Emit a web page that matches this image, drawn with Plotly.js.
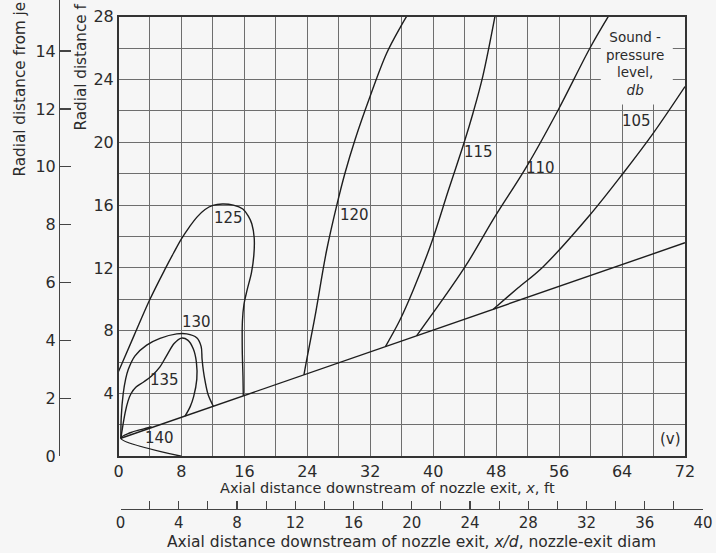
<!DOCTYPE html>
<html>
<head>
<meta charset="utf-8">
<script src="https://cdn.plot.ly/plotly-3.0.1.min.js"></script>
<style>html,body{margin:0;padding:0;background:#f6f6f6;}</style>
</head>
<body>
<div id="chart" style="width:716px;height:553px;"></div>
<script>
// ---- tick labels ----
const xFtTicks = [0, 8, 16, 24, 32, 40, 48, 56, 64, 72];
const yFtTicks = [4, 8, 12, 16, 20, 24, 28];
const xdTicks = [0, 4, 8, 12, 16, 20, 24, 28, 32, 36, 40];
const rdTicks = [0, 2, 4, 6, 8, 10, 12, 14];

// ---- jet mixing boundary ----
const jetX = [0.3, 72];
const jetY = [1.15, 13.6];

// ---- sound-pressure-level contours (x ft, r ft) ----
const c140X = [8, 0.3, 1.5, 3.0, 4.2];
const c140Y = [0, 1.15, 1.5, 1.72, 1.88];

const c135X = [0.3, 0.84, 1.2, 1.6, 2.2, 3.15, 4.2, 5.27, 6.1, 7.1, 8.0, 8.8, 9.5, 9.9, 9.95, 9.55, 9.1, 8.45];
const c135Y = [1.15, 2.77, 3.5, 4.0, 4.4, 4.72, 5.12, 5.7, 6.4, 7.2, 7.53, 7.4, 6.85, 6.0, 4.9, 3.8, 3.15, 2.56];

const c130X = [0.3, 0.35, 0.6, 0.9, 1.25, 2.1, 3.58, 5.27, 7.4, 8.67, 9.94, 10.5, 10.62, 10.8, 11.0, 11.41, 12.05];
const c130Y = [1.15, 2.5, 4.0, 4.9, 5.54, 6.4, 7.08, 7.51, 7.8, 7.8, 7.55, 7.0, 6.2, 5.4, 4.8, 3.9, 3.19];

const c125X = [0, 2, 4, 6, 7, 8, 9, 10, 11, 12, 13.2, 14.6, 15.8, 16.5, 16.95, 17.25, 17.2, 16.9, 16.35, 15.95, 15.75, 15.73, 15.82, 15.86];
const c125Y = [5.4, 7.72, 10.0, 12.0, 12.95, 13.85, 14.6, 15.25, 15.72, 15.98, 16.07, 16.0, 15.75, 15.3, 14.8, 13.9, 12.8, 11.7, 10.6, 9.7, 8.6, 6.8, 5.1, 3.85];

const c120X = [23.57, 23.91, 24.97, 26.46, 27.8, 28.78, 30.05, 31.96, 34.08, 35.9, 36.6];
const c120Y = [5.18, 6.13, 8.89, 13.14, 16.11, 18.03, 20.15, 22.9, 25.67, 27.4, 28];

const c115X = [33.93, 35.77, 37.46, 39.77, 41.94, 43.94, 45.05, 46.3, 47.84];
const c115Y = [6.99, 8.68, 10.59, 13.59, 16.96, 20.0, 21.85, 24.2, 28];

const c110X = [37.88, 43.97, 47.84, 51.87, 55.88, 59.91, 62.24];
const c110Y = [7.67, 12.01, 15.26, 18.45, 22.06, 25.99, 28];

const c105X = [47.63, 50.76, 53.98, 59.91, 64.14, 67.95, 72];
const c105Y = [9.37, 10.72, 12.08, 15.37, 18.03, 20.57, 23.55];

// ---- contour labels ----
const labelText = ['125', '130', '135', '140', '120', '115', '110', '105', '(v)'];
const labelX = [13.95, 9.94, 5.9, 5.27, 30.05, 45.8, 53.65, 65.85, 70.1];
const labelY = [15.16, 8.55, 4.88, 1.14, 15.36, 19.4, 18.39, 21.37, 1.13];

const keyText = 'Sound -<br>pressure<br>level,<br><i>db</i>';

// ---- styling ----
const BG = '#f6f6f6';
const INK = '#1e1e1e';
const TXT = '#2b2b2b';
const GRID = '#6e6e6e';
const FONT = 'DejaVu Sans';

function curve(x, y, shape) {
  return {x: x, y: y, type: 'scatter', mode: 'lines', xaxis: 'x', yaxis: 'y',
          line: {color: INK, width: 1.4, shape: shape || 'spline', smoothing: 1.0},
          hoverinfo: 'skip', showlegend: false};
}

const traces = [
  curve(jetX, jetY, 'linear'),
  curve(c140X, c140Y),
  curve(c135X, c135Y),
  curve(c130X, c130Y),
  curve(c125X, c125Y),
  curve(c120X, c120Y),
  curve(c115X, c115Y),
  curve(c110X, c110Y),
  curve(c105X, c105Y),
  {x: [null], y: [null], xaxis: 'x2', yaxis: 'y2', type: 'scatter', mode: 'lines',
   hoverinfo: 'skip', showlegend: false}
];

const W = 716, H = 553;
const px = v => v / W;
const py = v => 1 - v / H;

const annotations = [];
labelText.forEach((t, i) => annotations.push({
  text: t, x: labelX[i], y: labelY[i], xref: 'x', yref: 'y', showarrow: false,
  xanchor: 'center', yanchor: 'middle', font: {family: FONT, size: 15, color: TXT}
}));
annotations.push({
  text: keyText, x: 65.6, y: 25.0, xref: 'x', yref: 'y', showarrow: false,
  xanchor: 'center', yanchor: 'middle', align: 'center',
  font: {family: FONT, size: 13.5, color: TXT}
});
annotations.push({
  text: 'Axial distance downstream of nozzle exit, <i>x</i>, ft',
  x: px(387), y: py(488), xref: 'paper', yref: 'paper', showarrow: false,
  xanchor: 'center', yanchor: 'middle', font: {family: FONT, size: 14.5, color: TXT}
});
annotations.push({
  text: 'Axial distance downstream of nozzle exit, <i>x/d</i>, nozzle-exit diam',
  x: px(411), y: 0, xref: 'paper', yref: 'paper', showarrow: false,
  xanchor: 'center', yanchor: 'bottom', font: {family: FONT, size: 15.5, color: TXT}
});
annotations.push({
  text: 'Radial distance from je',
  x: px(19), y: py(179), xref: 'paper', yref: 'paper', showarrow: false, textangle: -90,
  xanchor: 'center', yanchor: 'bottom', font: {family: FONT, size: 15.2, color: TXT}
});
annotations.push({
  text: 'Radial distance f',
  x: px(81), y: py(133), xref: 'paper', yref: 'paper', showarrow: false, textangle: -90,
  xanchor: 'center', yanchor: 'bottom', font: {family: FONT, size: 15.2, color: TXT}
});

const tickFont = {family: FONT, size: 16, color: TXT};
const tickFont2 = {family: FONT, size: 15, color: TXT};

const layout = {
  width: W, height: H,
  margin: {l: 0, r: 0, t: 0, b: 0},
  paper_bgcolor: BG, plot_bgcolor: 'rgba(0,0,0,0)',
  showlegend: false,
  xaxis: {
    domain: [px(118.5), px(685)], range: [0, 72], anchor: 'y',
    tickmode: 'array', tickvals: xFtTicks, ticktext: xFtTicks.map(String),
    ticks: '', tickfont: tickFont,
    showgrid: true, gridcolor: GRID, gridwidth: 1,
    minor: {tickmode: 'linear', tick0: 0, dtick: 4, showgrid: true, gridcolor: GRID, gridwidth: 1, ticks: ''},
    showline: true, mirror: true, linecolor: '#333', linewidth: 1.5,
    zeroline: false, fixedrange: true
  },
  yaxis: {
    domain: [py(456.3), py(16.7)], range: [0, 28], anchor: 'x',
    tickmode: 'array', tickvals: yFtTicks, ticktext: yFtTicks.map(String),
    ticks: '', tickfont: tickFont,
    showgrid: true, gridcolor: GRID, gridwidth: 1,
    minor: {tickmode: 'linear', tick0: 0, dtick: 2, showgrid: true, gridcolor: GRID, gridwidth: 1, ticks: ''},
    showline: true, mirror: true, linecolor: '#333', linewidth: 1.5,
    zeroline: false, fixedrange: true
  },
  xaxis2: {
    domain: [px(120.5), px(703)], range: [0, 40], anchor: 'free', position: py(509),
    side: 'bottom', tickmode: 'array', tickvals: xdTicks, ticktext: xdTicks.map(String),
    ticks: 'inside', ticklen: 8, tickwidth: 1.2, tickcolor: '#444', tickfont: tickFont2,
    minor: {tickmode: 'linear', tick0: 0, dtick: 2, ticks: 'inside', ticklen: 8, tickwidth: 1.2, tickcolor: '#444', showgrid: false},
    showgrid: false, showline: true, linecolor: '#444', linewidth: 1.3,
    zeroline: false, fixedrange: true
  },
  yaxis2: {
    domain: [py(456.3), 1], range: [0, 456.3 / 28.95], anchor: 'free', position: px(59),
    side: 'left', tickmode: 'array', tickvals: rdTicks, ticktext: rdTicks.map(String),
    ticks: 'inside', ticklen: 11, tickwidth: 1.2, tickcolor: '#444', tickfont: tickFont,
    showgrid: false, showline: true, linecolor: '#444', linewidth: 1.3,
    zeroline: false, fixedrange: true
  },
  shapes: [{
    type: 'rect', xref: 'x', yref: 'y', x0: 61.3, x1: 70.45, y0: 22.4, y1: 28,
    fillcolor: BG, line: {width: 0}, layer: 'between'
  }],
  annotations: annotations
};

Plotly.newPlot('chart', traces, layout, {staticPlot: true, displayModeBar: false});
</script>
</body>
</html>
